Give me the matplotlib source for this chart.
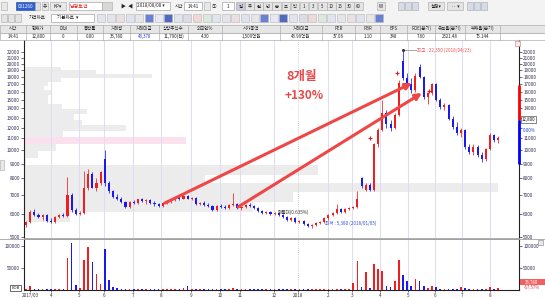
import numpy as np
import matplotlib
matplotlib.use("Agg")
import matplotlib.pyplot as plt
from matplotlib.patches import Rectangle
from matplotlib.ticker import NullLocator

plt.rcParams['font.family'] = ['Noto Sans CJK KR', 'DejaVu Sans']

# ---------------- data (3-trading-day candles, 2017/03 .. 2018/08) ----------------
opens = [5500, 5650, 6100, 5950, 5850, 5950, 5700, 5650, 5850, 5950,
         5900, 7000, 6200, 6000, 6050, 7400, 8300, 7400, 7700, 9300,
         7700, 7200, 6900, 6800, 6600, 6350, 6600, 6550, 6750, 6650,
         6700, 6550, 6500, 6400, 6550, 6650, 6750, 6850, 6800, 6950,
         6800, 6850, 6500, 6550, 6450, 6400, 6200, 6400, 6350, 6300,
         6450, 6500, 6300, 6350, 6450, 6400, 6300, 6150, 6050, 6100,
         6000, 6050, 5950, 5850, 5750, 5800, 5650, 5700, 5550, 5450,
         5500, 5600, 5650, 5800, 5950, 6050, 6250, 6100, 6250, 6300,
         6350, 8000, 7300, 7600, 7300, 10500, 11800, 13500, 12300, 12000,
         13300, 20500, 17800, 17000, 16200, 19500, 18000, 15300, 15800, 17000,
         15000, 14200, 14400, 12900, 12100, 11500, 11800, 10300, 9900, 10300,
         9600, 9300, 10100, 11300, 10900]
highs = [5700, 6200, 6250, 6050, 6000, 6000, 5800, 5900, 6000, 6050,
         8100, 7100, 6300, 6150, 8500, 8600, 8400, 8000, 8500, 10000,
         7800, 7300, 7050, 6900, 6650, 6650, 6700, 6800, 6850, 6750,
         6800, 6650, 6550, 6600, 6700, 6800, 6900, 7000, 7050, 7000,
         6900, 6900, 6600, 6650, 6550, 6450, 6450, 6500, 6450, 6500,
         7100, 6550, 6400, 6500, 6550, 6450, 6350, 6200, 6150, 6150,
         6100, 6100, 6000, 5900, 5850, 5850, 5750, 5750, 5600, 5550,
         5650, 5700, 5850, 6000, 6100, 6500, 6300, 6300, 6350, 6400,
         7200, 8100, 7700, 7700, 10600, 12000, 15000, 13800, 12700, 13500,
         17500, 22350, 18500, 17800, 18500, 19950, 18200, 16000, 17200, 17100,
         15200, 14600, 14500, 13200, 12500, 12000, 11900, 10500, 10500, 10400,
         9900, 10200, 11500, 11400, 11200]
lows = [5400, 5600, 5900, 5800, 5750, 5650, 5600, 5600, 5800, 5850,
        5850, 6100, 5950, 5950, 6000, 7300, 7400, 7200, 7600, 7500,
        7100, 6850, 6700, 6550, 6300, 6300, 6500, 6500, 6600, 6500,
        6500, 6400, 6350, 6350, 6500, 6550, 6650, 6700, 6750, 6750,
        6700, 6450, 6450, 6400, 6350, 6150, 6150, 6300, 6250, 6250,
        6400, 6250, 6200, 6300, 6350, 6250, 6100, 6000, 6000, 5950,
        5950, 5900, 5800, 5700, 5700, 5600, 5600, 5500, 5420, 5380,
        5450, 5550, 5600, 5750, 5900, 6000, 6050, 6050, 6200, 6250,
        6300, 7400, 7200, 7200, 7250, 10300, 11700, 12000, 11700, 11900,
        13200, 17500, 16500, 15800, 16000, 17800, 15100, 14500, 15600, 14800,
        13900, 13800, 12700, 11900, 11300, 11100, 10100, 9700, 9600, 9500,
        9100, 9200, 10000, 10700, 10600]
closes = [5650, 6100, 5950, 5850, 5950, 5700, 5650, 5850, 5950, 5900,
          7000, 6200, 6000, 6050, 7400, 8300, 7400, 7700, 8400, 7700,
          7200, 6900, 6800, 6600, 6350, 6600, 6550, 6750, 6650, 6700,
          6550, 6500, 6400, 6550, 6650, 6750, 6850, 6800, 6950, 6800,
          6850, 6500, 6550, 6450, 6400, 6200, 6400, 6350, 6300, 6450,
          6500, 6300, 6350, 6450, 6400, 6300, 6150, 6050, 6100, 6000,
          6050, 5950, 5850, 5750, 5800, 5650, 5700, 5550, 5450, 5500,
          5600, 5650, 5800, 5950, 6050, 6250, 6100, 6250, 6300, 6350,
          6800, 7500, 7600, 7300, 10500, 11800, 13500, 12300, 12000, 13300,
          17200, 17800, 17000, 16200, 18200, 18000, 15300, 15800, 17000, 15000,
          14200, 14400, 12900, 12100, 11500, 11800, 10300, 9900, 10300, 9600,
          9300, 10100, 11300, 10900, 11000]
volumes = [3000, 8000, 3000, 2000, 2000, 2000, 1500, 2000, 2000, 1500,
           73000, 107000, 12000, 5000, 69000, 97000, 64000, 36000, 14000, 93000,
           22000, 6000, 4000, 3000, 3000, 3000, 2000, 2500, 2000, 2000,
           1500, 2000, 1500, 2000, 2500, 3000, 3000, 2000, 4000, 8000,
           2000, 2500, 1500, 1500, 1500, 2000, 2000, 1500, 1500, 2000,
           4000, 2000, 1500, 1500, 1500, 1500, 2000, 1500, 1500, 1500,
           1500, 1500, 1500, 1500, 1500, 1500, 1500, 2000, 2000, 2000,
           1500, 1500, 2000, 2500, 2000, 3000, 2000, 2000, 1500, 16000,
           66000, 6000, 42000, 5000, 60000, 48000, 44000, 8000, 6000, 20000,
           68000, 33000, 20000, 8000, 26000, 20000, 8000, 4000, 9000, 6000,
           3000, 2500, 3000, 3000, 3000, 6000, 4000, 3000, 2500, 2000,
           2500, 3000, 6000, 2000, 4000]

month_pos = [3.2, 18.0, 38.3, 56.4, 77.4, 97.7, 119.4, 140.4, 154.9, 179.5,
             196.9, 218.6, 236.0, 256.3, 276.6, 296.1, 315.7, 336.0]
month_labels = ['2017/03', '4', '5', '6', '7', '8', '9', '10', '11', '12',
                '2018', '2', '3', '4', '5', '6', '7', '8']

price_ticks = [5000, 6000, 7000, 8000, 9000, 10000, 11000, 12000, 13000, 14000,
               15000, 16000, 17000, 18000, 19000, 20000, 21000, 22000]
hidden_right_ticks = [12000, 13000]   # covered by current-price box on right axis
vol_ticks = [50000, 100000]

# price-by-volume profile (band edges in price, relative volume)
profile_edges = [5650, 6090, 6605, 7170, 7720, 8240, 8875, 9400, 9955, 10540,
                 11170, 11630, 12220, 12730, 13370, 13930, 14510, 15630, 16150,
                 16680, 17240, 17810, 18400, 19020, 19490]
profile_vol = [46, 229, 269, 474, 181, 294, 2, 14, 32, 162, 39, 102, 58, 50,
               63, 38, 24, 28, 20, 24, 37, 128, 72, 37]
profile_current_band = 9

# trend lines (x in trading-day index, price)
trend1 = ([100.6, 279.5], [6563, 17135])
trend2 = ([153.5, 286.7], [6356, 15820])

peak_x, peak_p = 273.0, 22350
low_x, low_p = 216.5, 5593
signal_x = [268.6, 291.8, 249.0]
signal_p = [18570, 16080, 11040]
range_hi, range_mid, range_lo = 16810, 12800, 9000
last_price = 12800

RED = '#f01e1e'
BLUE = '#1a1af0'

W, H = 545, 298
fig = plt.figure(figsize=(W / 100, H / 100), dpi=100)
fig.patch.set_facecolor('white')


def rect_px(x0, y0, x1, y1):
    return [x0 / W, 1 - y1 / H, (x1 - x0) / W, (y1 - y0) / H]


main_rect = rect_px(24, 40, 519, 238)
vol_rect = rect_px(24, 239, 519, 290)
YMIN, YMAX = 4960, 24180
XMIN, XMAX = -1.5, 357

# ---- profile underlay ----
axp = fig.add_axes(main_rect)
axp.set_yscale('log')
axp.set_ylim(YMIN, YMAX)
axp.set_xlim(0, 495)
axp.axis('off')
edges = np.array(profile_edges, dtype=float)
pcols = ['#fbe0ee' if i == profile_current_band else '#ececec' for i in range(len(profile_vol))]
axp.barh(edges[:-1], profile_vol, height=np.diff(edges), align='edge',
         color=pcols, linewidth=0)

# ---- main price axes ----
ax = fig.add_axes(main_rect, facecolor='none')
ax.set_yscale('log')
ax.set_ylim(YMIN, YMAX)
ax.set_xlim(XMIN, XMAX)

for i, mp in enumerate(month_pos[1:], start=1):
    if month_labels[i] == '2018':
        ax.axvline(mp, color='#c0c0c0', lw=0.6, ls=(0, (1, 1.5)), zorder=0)
    else:
        ax.axvline(mp, color='#dcdcf4', lw=0.7, zorder=0)

o = np.array(opens, float); h = np.array(highs, float)
l = np.array(lows, float); c = np.array(closes, float)
x = np.arange(len(c)) * 3.0
up = c >= o
cols = np.where(up, RED, BLUE)
ax.vlines(x, l, h, colors=cols, lw=0.55, zorder=3)
body_lo = np.minimum(o, c)
body_h = np.maximum(np.abs(c - o), body_lo * 0.006)
ax.bar(x, body_h, bottom=body_lo, width=1.5, color=cols, linewidth=0, zorder=4)

# trend arrows
for tx, ty in (trend1, trend2):
    ax.annotate('', xy=(tx[1], ty[1]), xytext=(tx[0], ty[0]),
                arrowprops=dict(arrowstyle='-|>', color='#ef4646', lw=2.2,
                                mutation_scale=9, shrinkA=0, shrinkB=0),
                zorder=6)

ax.text(199.8, 17990, '8개월', color='#e84848', fontsize=9, fontweight='bold',
        ha='center', va='center', zorder=7)
ax.text(201.3, 15570, '+130%', color='#e84848', fontsize=8.5, fontweight='bold',
        ha='center', va='center', zorder=7)

# peak / low annotations
ax.plot([peak_x, 282.4], [peak_p, peak_p], color='#999999', lw=0.6, zorder=5)
ax.plot([peak_x], [peak_p], marker='o', ms=1.2, color='#333333', zorder=6)
ax.text(283.2, peak_p, '최고 : 22,350 (2018/04/23)', color='#f05050', fontsize=3.3,
        va='center', ha='left', zorder=7)
ax.text(low_x, low_p, '최저 : 5,380 (2018/01/05)', color='#3050e0', fontsize=3.3,
        va='center', ha='left', zorder=7)
ax.text(182.4, 6107, '매물대(0.635%)', color='#333333', fontsize=3.3,
        va='center', ha='left', zorder=7)
ax.plot(signal_x, signal_p, ls='none', marker='+', ms=3, mew=0.8, color='#e02020', zorder=7)

# axes styling
ax.set_yticks(price_ticks)
ax.yaxis.set_minor_locator(NullLocator())
ax.set_yticklabels([str(t) for t in price_ticks])
ax.tick_params(axis='y', which='both', labelsize=3.3, length=2, width=0.5, pad=1,
               left=True, right=True, labelleft=True, labelright=True,
               colors='#333333', labelcolor='#2a2a55')
for t, tk in zip(price_ticks, ax.yaxis.get_major_ticks()):
    if t in hidden_right_ticks:
        tk.label2.set_visible(False)
ax.tick_params(axis='x', which='both', bottom=False, labelbottom=False)
for s in ('left', 'right'):
    ax.spines[s].set_color('#222222'); ax.spines[s].set_linewidth(0.8)
ax.spines['top'].set_visible(False)
ax.spines['bottom'].set_color('#a0a0a0'); ax.spines['bottom'].set_linewidth(0.6)

# right-axis range bar
ax.plot([1.0, 1.0], [range_mid, range_hi], transform=ax.get_yaxis_transform(),
        color='#ff0000', lw=2.0, clip_on=False, zorder=8, solid_capstyle='butt')
ax.plot([1.0, 1.0], [range_lo, range_mid], transform=ax.get_yaxis_transform(),
        color='#0000ff', lw=2.0, clip_on=False, zorder=8, solid_capstyle='butt')
ax.text(1.006, last_price, '12,800', transform=ax.get_yaxis_transform(),
        fontsize=3.2, va='center', ha='left', color='#111111', zorder=9,
        bbox=dict(boxstyle='square,pad=0.12', fc='white', ec='#555555', lw=0.5))
ax.text(1.008, 11720, '0.00%', transform=ax.get_yaxis_transform(), fontsize=3.2,
        va='center', ha='left', color='#2040d0', zorder=9)

# ---- volume axes ----
axv = fig.add_axes(vol_rect)
axv.set_xlim(XMIN, XMAX)
axv.set_ylim(0, 116000)
for i, mp in enumerate(month_pos[1:], start=1):
    if month_labels[i] == '2018':
        axv.axvline(mp, color='#c0c0c0', lw=0.6, ls=(0, (1, 1.5)), zorder=0)
    else:
        axv.axvline(mp, color='#dcdcf4', lw=0.7, zorder=0)
axv.bar(x, volumes, width=1.2, color=cols, linewidth=0, zorder=3)
axv.set_yticks(vol_ticks)
axv.set_yticklabels([str(t) for t in vol_ticks])
axv.tick_params(axis='y', labelsize=3.3, length=2, width=0.5, pad=1,
                left=True, right=True, labelleft=True, labelright=True,
                colors='#333333', labelcolor='#2a2a55')
axv.set_xticks(month_pos)
axv.set_xticklabels(month_labels)
axv.tick_params(axis='x', labelsize=3.3, length=1.5, width=0.5, pad=0.8,
                colors='#333333')
for s in ('left', 'right', 'bottom'):
    axv.spines[s].set_color('#222222'); axv.spines[s].set_linewidth(0.8)
axv.spines['top'].set_color('#a0a0a0'); axv.spines['top'].set_linewidth(0.6)

# ---- overlay in pixel coordinates: toolbar, table, small labels ----
ov = fig.add_axes([0, 0, 1, 1], facecolor='none')
ov.set_xlim(0, W); ov.set_ylim(H, 0); ov.axis('off')


def box(x0, y0, w, h, fc='#f0f0f0', ec='#a8a8a8', lw=0.4):
    ov.add_patch(Rectangle((x0, y0), w, h, fc=fc, ec=ec, lw=lw))


def txt(xc, yc, s, color='#222222', fs=3.3, ha='center', **kw):
    ov.text(xc, yc, s, color=color, fontsize=fs, ha=ha, va='center', **kw)


ov.plot([0, W], [239, 239], color='#a0a0a0', lw=0.6)

# toolbar rows
box(0, 0, W, 24.5, fc='#f3f3f3', ec='none')
box(1, 2, 6, 8, fc='#e8e8e8')
box(16, 2, 19, 8, fc='#2f5fd0', ec='#204090')
txt(25.5, 6, '001260', color='white')
box(35, 2, 5, 8, fc='#e0e0e0')
box(42, 2, 6, 8, fc='#e8e8e8'); txt(45, 6, '유')
box(50, 2, 16, 8, fc='#e8e8e8'); txt(58, 6, 'KP▾')
box(69, 2, 33, 8, fc='white', ec='#909090')
txt(79, 6, '남광토건', color='#e02020', fs=3.6, ha='center')
box(102, 2, 10, 8, fc='#d8d8d8')
txt(123, 6, '▶', fs=3.6); txt(130, 6, '◀', fs=3.6)
box(136, 2, 34, 8, fc='white', ec='#909090'); txt(151, 6, '2018/08/08 ▾')
txt(179, 6, '시간')
box(184, 2, 18, 8, fc='white', ec='#909090'); txt(193, 6, '14:41')
box(204, 2, 6, 8, fc='#e8e8e8')
txt(214, 6, '①')
box(222, 2, 12, 8, fc='white', ec='#909090'); txt(228, 6, '1')
btns = ['일', '주', '월', '년', '분', '초', '틱', '1', '3', '5', '10', '15', '30', '60']
for i, b in enumerate(btns):
    box(236 + i * 9.1, 2, 8.6, 8, fc='#e4e4e4' if i else '#c8c8d8')
    txt(240.3 + i * 9.1, 6, b, fs=3.1)
box(377, 2, 8, 8, fc='#e4e4e4'); txt(381, 6, 'W')
for xx in (398, 405, 412):
    box(xx, 2, 6, 8, fc='#d6dbe8')
box(428, 2, 16, 8, fc='#e4e4e4'); txt(436, 6, '설정▾')
box(447, 2, 16, 8, fc='#e4e4e4'); txt(455, 6, '·· ▾')
for xx in (467, 474, 481):
    box(xx, 2, 6, 8, fc='#d6dbe8')

# row 2
for xx in (1, 8, 15):
    box(xx, 13.5, 6, 8, fc='#e4e4e4')
txt(37, 17.5, '가격차트', fs=3.3)
box(51, 13.5, 43, 8, fc='white', ec='#909090'); txt(68, 17.5, '기본차트  ▾')
icon_cols = ['#dfe4ee', '#e4e4ec', '#ecdfe4', '#dce2ee', '#e6e6e6', '#6a80d0',
             '#e8e8f0', '#5068c0', '#e0e4ec', '#dcdce8', '#eed8d8', '#dce8dc']
for i in range(30):
    box(97 + i * 9.6, 13.5, 8, 8, fc=icon_cols[i % len(icon_cols)], ec='#b8b8b8')

# table
cols_x = [0, 26, 50, 77, 103, 130, 159, 188, 222, 280, 322, 355, 380, 407, 435, 465, 500]
heads = ['시각', '현재가', '대비', '등락률', '거래량', '거래대금', '상장주식수', '외국인%',
         '시가총액', '거래대금', 'PER', 'PBR', 'EPS', 'ROE(분기)', '유보율(분기)', '부채율(분기)']
vals = ['14:41', '12,800', '0', '0.00', '33,780', '43,378', '11,790(천)', '4.30',
        '1,509억원', '43.99억원', '37.06', '1.10', '348', '7.60', '2321.48', '75.144']
box(0, 24.5, W, 8, fc='#e6e6e6', ec='#9a9a9a')
box(0, 32.5, W, 7.5, fc='white', ec='#9a9a9a')
for i in range(len(heads)):
    x0, x1 = cols_x[i], cols_x[i + 1]
    ov.plot([x1, x1], [24.5, 40], color='#a0a0a0', lw=0.4)
    txt((x0 + x1) / 2, 28.5, heads[i], fs=3.2)
    txt((x0 + x1) / 2, 36.3, vals[i], fs=3.2, color='#2040d0' if i == 5 else '#222222')

# small widgets
box(0, 160, 4, 10, fc='#e8e8e8')
box(10, 285, 11, 6, fc='white', ec='#333333', lw=0.5); txt(15.5, 288, 'EOB', fs=3.0)
box(520, 279, 25, 6, fc='#f06060', ec='none'); txt(532, 282, '33,780', color='white', fs=3.1)
txt(532, 287.5, '-67.57%', color='#e03030', fs=3.1)
box(515, 41, 5, 5, fc='#f8e8e8', ec='#c08080')
box(538, 240, 5, 5, fc='#e8e8e8', ec='#808080')

fig.savefig('out.png', dpi=100)
